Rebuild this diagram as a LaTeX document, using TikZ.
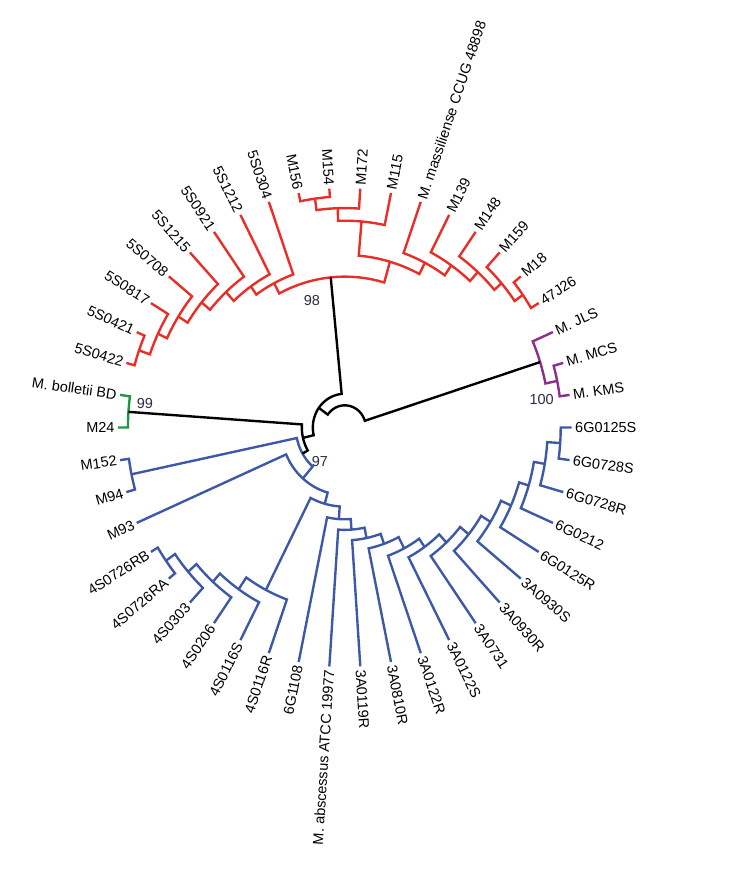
\documentclass[tikz,border=0pt]{standalone}
\usepackage{fontspec}
\setmainfont{Liberation Sans}
\usepackage{tikz}
\definecolor{cladered}{RGB}{232,46,38}
\definecolor{cladeblue}{RGB}{62,88,168}
\definecolor{cladegreen}{RGB}{30,150,70}
\definecolor{cladepurple}{RGB}{140,45,140}
\definecolor{bootgray}{RGB}{40,45,70}

% one bracket of the tree: name, radius, angle/child of both ends
\newcommand{\clade}[7]{%
  \coordinate (#2) at ({(#4+#6)/2}:#3);
  \draw[#1] (#5) -- plot[domain=#4:#6] (\x:#3) -- (#7);}

\begin{document}
\begin{tikzpicture}[
    x=0.025cm, y=0.026375cm,
    branch/.style={line width=1.7pt, samples=30},
    redb/.style={branch, cladered},
    blueb/.style={branch, cladeblue},
    greenb/.style={branch, cladegreen},
    purpleb/.style={branch, cladepurple},
    backb/.style={branch, black},
    leaf/.style={font=\fontsize{10.3}{12}\selectfont, inner sep=2.5pt, outer sep=0pt},
    boot/.style={font=\fontsize{10.3}{12}\selectfont, text=bootgray, inner sep=0pt}
]
\useasboundingbox (-345,-418.48) rectangle (398,405.21);

% leaves
\foreach \k/\txt in {0/6G0125S, 1/M. KMS, 2/M. MCS, 3/M. JLS, 4/47J26, 5/M18,
    6/M159, 7/M148, 8/M139, 9/M. massiliense CCUG 48898, 10/M115, 11/M172,
    12/M154, 13/M156, 14/5S0304, 15/5S1212, 16/5S0921, 17/5S1215, 18/5S0708,
    19/5S0817, 20/5S0421, 21/5S0422, 22/M. bolletii BD, 23/M24, 24/M152,
    25/M94, 26/M93, 27/4S0726RB, 28/4S0726RA, 29/4S0303, 30/4S0206,
    31/4S0116S, 32/4S0116R, 33/6G1108, 34/M. abscessus ATCC 19977,
    35/3A0119R, 36/3A0810R, 37/3A0122R, 38/3A0122S, 39/3A0731, 40/3A0930R,
    41/3A0930S, 42/6G0125R, 43/6G0212, 44/6G0728R, 45/6G0728S}{
  \pgfmathsetmacro\ang{\k*360/46}
  \pgfmathsetmacro\rot{atan2(1.055*sin(\ang),cos(\ang))}
  \pgfmathtruncatemacro\rightside{cos(\ang)>0}
  \coordinate (l\k) at (\ang:227);
  \ifnum\rightside=1
    \node[leaf, anchor=west, rotate=\rot] (t\k) at (l\k) {\txt};
  \else
    \node[leaf, anchor=east, rotate=\rot+180] (t\k) at (l\k) {\txt};
  \fi
}

% purple and green
\clade{purpleb}{P2}{217}{7.83}{l1}{15.65}{l2}
\clade{purpleb}{P}{205}{11.74}{P2}{23.48}{l3}
\clade{greenb}{G}{217}{172.17}{l22}{180}{l23}

% red clade
\clade{redb}{L7}{218.5}{156.52}{l20}{164.35}{l21}
\clade{redb}{L6}{207}{148.70}{l19}{160.43}{L7}
\clade{redb}{L5}{197}{140.87}{l18}{154.57}{L6}
\clade{redb}{L4}{186}{133.04}{l17}{147.72}{L5}
\clade{redb}{L3}{175}{125.22}{l16}{140.38}{L4}
\clade{redb}{L2}{163.5}{117.39}{l15}{132.80}{L3}
\clade{redb}{L1}{154}{109.57}{l14}{125.10}{L2}
\clade{redb}{R2b}{219}{93.91}{l12}{101.74}{l13}
\clade{redb}{R2a}{208}{86.09}{l11}{97.83}{R2b}
\clade{redb}{R2}{196}{78.26}{l10}{91.96}{R2a}
\clade{redb}{R7}{218}{31.30}{l4}{39.13}{l5}
\clade{redb}{R6}{208}{35.22}{R7}{46.96}{l6}
\clade{redb}{R5}{198.5}{41.09}{R6}{54.78}{l7}
\clade{redb}{R4}{187}{47.94}{R5}{62.61}{l8}
\clade{redb}{R3}{175.5}{55.27}{R4}{70.43}{l9}
\clade{redb}{R1}{163.5}{62.85}{R3}{85.11}{R2}
\clade{redb}{R0}{143}{73.98}{R1}{117.33}{L1}

% blue clade
\clade{blueb}{U15}{216}{352.17}{l45}{360}{l0}
\clade{blueb}{U14}{203}{344.35}{l44}{356.09}{U15}
\clade{blueb}{U13}{192}{336.52}{l43}{350.22}{U14}
\clade{blueb}{U12}{182}{328.70}{l42}{343.37}{U13}
\clade{blueb}{U11}{171}{320.87}{l41}{336.03}{U12}
\clade{blueb}{U10}{160}{313.04}{l40}{328.45}{U11}
\clade{blueb}{U9}{149}{305.22}{l39}{320.75}{U10}
\clade{blueb}{U8}{138.5}{297.39}{l38}{312.98}{U9}
\clade{blueb}{U7}{129}{289.57}{l37}{305.19}{U8}
\clade{blueb}{U6}{117}{281.74}{l36}{297.38}{U7}
\clade{blueb}{U5}{107}{273.91}{l35}{289.56}{U6}
\clade{blueb}{U4}{97}{266.09}{l34}{281.74}{U5}
\clade{blueb}{U3}{87}{258.26}{l33}{273.91}{U4}
\clade{blueb}{S4}{219}{211.30}{l27}{219.13}{l28}
\clade{blueb}{S3}{208}{215.22}{S4}{226.96}{l29}
\clade{blueb}{S2}{197}{221.09}{S3}{234.78}{l30}
\clade{blueb}{S1}{186.5}{227.93}{S2}{242.61}{l31}
\clade{blueb}{S0}{173}{235.27}{S1}{250.43}{l32}
\clade{blueb}{U2}{75}{242.85}{S0}{266.09}{U3}
\clade{blueb}{U1}{64}{203.48}{l26}{254.47}{U2}
\clade{blueb}{Ua}{218}{187.83}{l24}{195.65}{l25}
\clade{blueb}{U0}{49}{191.74}{Ua}{228.98}{U1}

% backbone
\clade{backb}{B}{43}{176.09}{G}{210.36}{U0}
\clade{backb}{A}{32}{95.66}{R0}{193.22}{B}
\clade{backb}{root}{21}{17.61}{P}{144.44}{A}

% bootstrap values
\node[boot] (b98) at (-33,119.9) {98};
\node[boot] (b99) at (-200,23.2) {99};
\node[boot] (b97) at (-25,-31.8) {97};
\node[boot] (b100) at (197,27) {100};

\end{tikzpicture}
\end{document}
